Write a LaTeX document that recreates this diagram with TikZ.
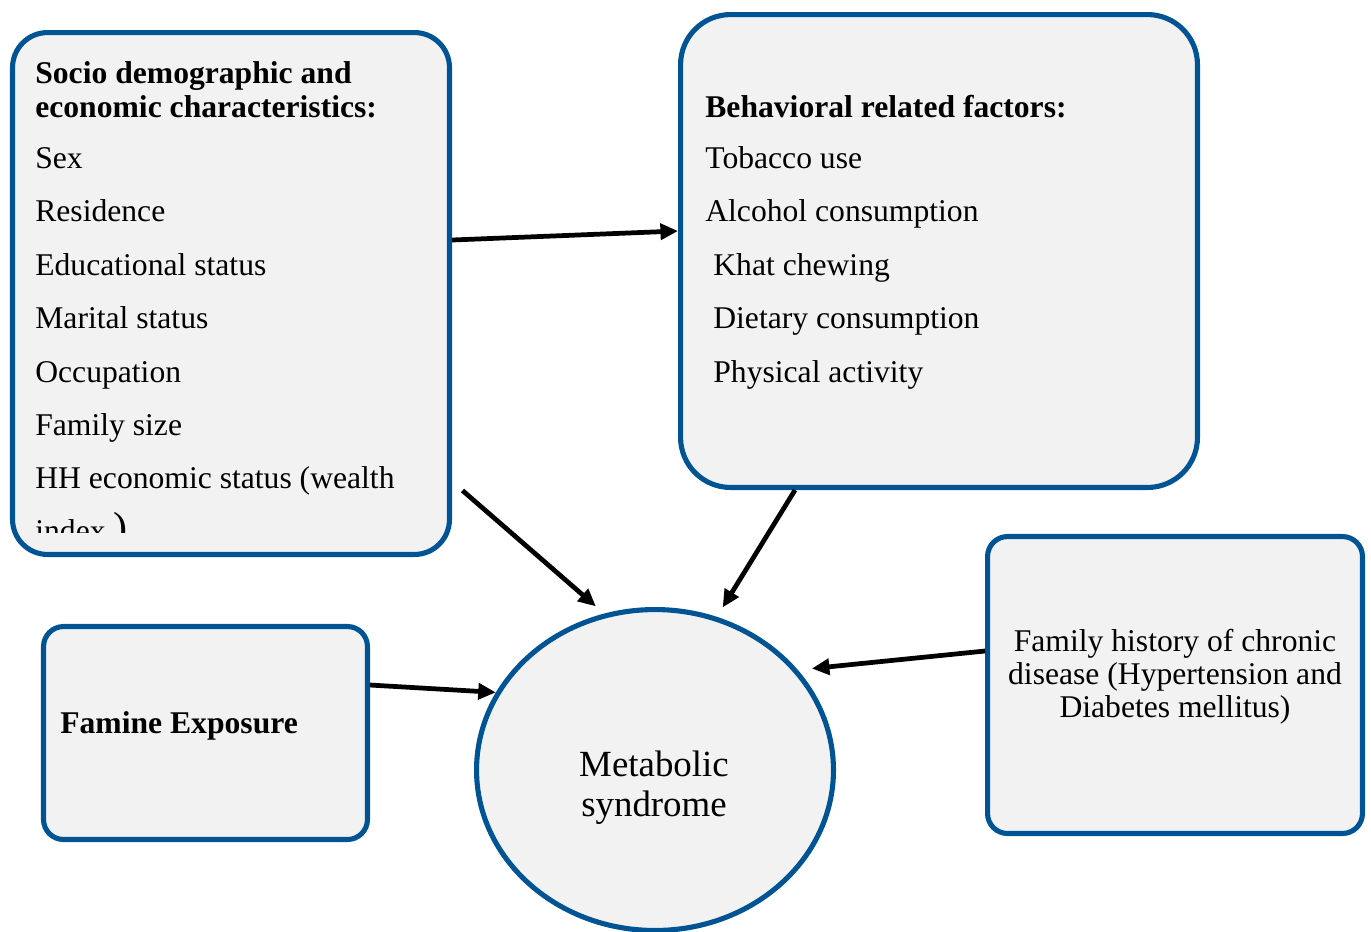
\documentclass[tikz,border=0pt]{standalone}
\usepackage{fontspec}
\setmainfont{Liberation Serif}
\usepackage{tikz}
\usetikzlibrary{shapes.geometric}
\usetikzlibrary{arrows.meta,positioning,calc}
\tikzstyle{Fbox}=[shape=rectangle,draw=msblue,fill=msgray,line width=2.9pt,inner sep=0pt]
\tikzstyle{Fitem}=[anchor=base west,inner sep=0pt,font=\fontsize{18}{18}\selectfont]
\tikzstyle{Fhead}=[Fitem,font=\fontsize{18}{18}\selectfont\bfseries]
\tikzstyle{causeedge}=[-{Triangle[length=10pt,width=9pt]},line width=2.7pt]
\definecolor{msblue}{RGB}{0,84,147}
\definecolor{msgray}{RGB}{242,242,242}

\begin{document}
\begin{tikzpicture}[x=0.02cm,y=-0.02cm]
\useasboundingbox (0,0) rectangle (1371,931);

\node[Fbox,rounded corners=0.7cm,minimum width=8.74cm,minimum height=10.44cm] (socio) at (231,293.5){};
\node[Fbox,rounded corners=1cm,minimum width=10.34cm,minimum height=9.46cm] (behav) at (939,251){};
\node[Fbox,rounded corners=0.4cm,minimum width=6.48cm,minimum height=4.26cm] (famine) at (205.5,733){};
\node[Fbox,rounded corners=0.4cm,minimum width=7.5cm,minimum height=5.94cm] (famhist) at (1175,685){};
\node[Fbox,shape=ellipse,minimum width=7.14cm,minimum height=6.42cm] (metsyn) at (655,770){};

\node[Fhead] (sochead1) at (35,83){Socio demographic and};
\node[Fhead] (sochead2) at (35,117){economic characteristics:};
\node[Fitem] (sex) at (35,168){Sex};
\node[Fitem] (residence) at (35,221.5){Residence};
\node[Fitem] (educ) at (35,275){Educational status};
\node[Fitem] (marital) at (35,328.5){Marital status};
\node[Fitem] (occup) at (35,382){Occupation};
\node[Fitem] (famsize) at (35,435){Family size};
\node[Fitem] (wealth) at (35,488){HH economic status (wealth};
\begin{scope}
\clip (0,0) rectangle (452,532);
\node[Fitem] (wealthidx) at (35,541){index {\fontsize{24}{24}\selectfont)}};
\end{scope}

\node[Fhead] (behhead) at (705,117){Behavioral related factors:};
\node[Fitem] (tobacco) at (705,168){Tobacco use};
\node[Fitem] (alcohol) at (705,221.5){Alcohol consumption};
\node[Fitem] (khat) at (713,275){Khat chewing};
\node[Fitem] (diet) at (713,328.5){Dietary consumption};
\node[Fitem] (physact) at (713,382){Physical activity};

\node[Fhead] (famhead) at (60,733){Famine Exposure};

\node[font=\fontsize{18}{18.7}\selectfont,align=center,inner sep=0pt] (famhisttxt) at (1175,677){Family history of chronic\\disease (Hypertension and\\Diabetes mellitus)};

\node[font=\fontsize{21}{22.7}\selectfont,align=center,inner sep=0pt] (metsyntxt) at (654,788){Metabolic\\syndrome};

\path
([yshift=1.07cm]socio.east) edge [causeedge] ([yshift=0.4cm]behav.west)
([xshift=0.21cm,yshift=1.33cm]socio.south east) edge [causeedge,shorten >=0.22cm] (metsyn.108)
([xshift=-2.88cm]behav.south) edge [causeedge,shorten >=0.22cm] (metsyn.68)
([yshift=0.96cm]famine.east) edge [causeedge] (metsyn.154.6)
([yshift=0.68cm]famhist.west) edge [causeedge,shorten >=0.28cm] (metsyn.35);

\end{tikzpicture}
\end{document}
